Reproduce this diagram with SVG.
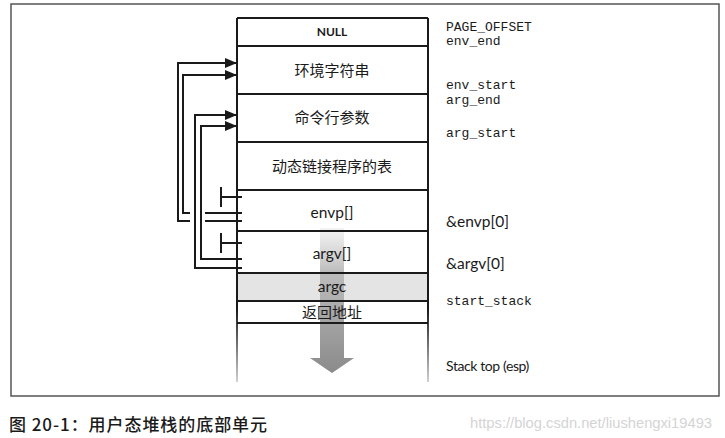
<svg xmlns="http://www.w3.org/2000/svg" width="725" height="438" viewBox="0 0 725 438">
<style>
.ln{stroke:#1a1a1a;stroke-width:2;fill:none}
.cn{stroke:#1a1a1a;stroke-width:2;fill:none}
.zh{font-family:"Noto Sans CJK SC","Noto Sans",sans-serif;font-size:15px;fill:#1a1a1a;text-anchor:middle}
.en{font-family:Lato,"Open Sans",sans-serif;font-size:15.5px;fill:#1a1a1a;text-anchor:middle}
.mono{font-family:"Liberation Mono","DejaVu Sans Mono",monospace;font-size:13px;fill:#1a1a1a}
.lab{font-family:Lato,"Open Sans",sans-serif;font-size:15.5px;fill:#1a1a1a}
</style>
<defs>
<marker id="ah" markerWidth="12" markerHeight="10" refX="12" refY="5" orient="auto" markerUnits="userSpaceOnUse">
<path d="M0,0 L12,5 L0,10 Z" fill="#1a1a1a"/>
</marker>
<linearGradient id="ag" x1="0" y1="0" x2="0" y2="1">
<stop offset="0" stop-color="#c8c8c8" stop-opacity="0.2"/>
<stop offset="0.3" stop-color="#bdbdbd"/>
<stop offset="1" stop-color="#8a8a8a"/>
</linearGradient>
<linearGradient id="sg" x1="0" y1="0" x2="0" y2="1">
<stop offset="0" stop-color="#1a1a1a"/>
<stop offset="0.8" stop-color="#1a1a1a"/>
<stop offset="1" stop-color="#1a1a1a" stop-opacity="0.2"/>
</linearGradient>
</defs>
<rect x="11" y="4" width="708" height="392" fill="#fff" stroke="#555" stroke-width="1.5"/>
<g id="stack">
<rect x="237" y="273" width="191" height="28" fill="#e4e4e4"/>
<path d="M320,228 H344 V358 H354 L332,373 L310,358 H320 Z" fill="url(#ag)"/>
<path d="M237,18 H428" class="ln"/>
<rect x="236" y="18" width="2" height="364" fill="url(#sg)"/>
<rect x="427" y="18" width="2" height="364" fill="url(#sg)"/>
</g>
<g id="null"><path d="M237,46 H428" class="ln"/><text x="332" y="36" style="font-family:Lato,sans-serif;font-size:12px;font-weight:bold;fill:#1a1a1a;text-anchor:middle">NULL</text></g>
<g id="env"><path d="M237,94 H428" class="ln"/><text x="332" y="76" class="zh">环境字符串</text></g>
<g id="args"><path d="M237,142 H428" class="ln"/><text x="332" y="123" class="zh">命令行参数</text></g>
<g id="dyn"><path d="M237,190 H428" class="ln"/><text x="332" y="172" class="zh">动态链接程序的表</text></g>
<g id="envp"><path d="M237,231 H428" class="ln"/><text x="332" y="218" class="en">envp[]</text></g>
<g id="argv"><path d="M237,273 H428" class="ln"/><text x="332" y="259" class="en">argv[]</text></g>
<g id="argc"><path d="M237,301 H428" class="ln"/><text x="332" y="292" class="en">argc</text></g>
<g id="ret"><path d="M237,323 H428" class="ln"/><text x="332" y="318" class="zh">返回地址</text></g>
<g id="connectors">
<path d="M190,221 H178 V63 H237" class="cn" marker-end="url(#ah)"/>
<path d="M205,221 H242" class="cn"/>
<path d="M190,213 H183 V75 H237" class="cn" marker-end="url(#ah)"/>
<path d="M205,213 H242" class="cn"/>
<path d="M242,268 H195 V115 H237" class="cn" marker-end="url(#ah)"/>
<path d="M242,259 H201 V126 H237" class="cn" marker-end="url(#ah)"/>
<path d="M221,187 V207 M221,197 H242" class="cn"/>
<path d="M221,233 V253 M221,243 H242" class="cn"/>
</g>
<g id="labels">
<text x="446" y="31" class="mono">PAGE_OFFSET</text>
<text x="446" y="45" class="mono">env_end</text>
<text x="446" y="89" class="mono">env_start</text>
<text x="446" y="104" class="mono">arg_end</text>
<text x="446" y="137" class="mono">arg_start</text>
<text x="446" y="227" class="lab">&amp;envp[0]</text>
<text x="446" y="269" class="lab">&amp;argv[0]</text>
<text x="446" y="305" class="mono">start_stack</text>
<text x="446" y="371" class="lab" style="font-size:14px;letter-spacing:-0.4px">Stack top (esp)</text>
</g>
<text x="9" y="431" textLength="258" lengthAdjust="spacing" style="font-family:'Noto Sans CJK SC','Noto Sans',sans-serif;font-size:17px;font-weight:500;fill:#1a1a1a">图 20-1：用户态堆栈的底部单元</text>
<text x="470" y="428" textLength="242" lengthAdjust="spacingAndGlyphs" style="font-family:'Liberation Sans',sans-serif;font-size:15px;fill:#d4d4d4">https://blog.csdn.net/liushengxi19493</text>
</svg>
